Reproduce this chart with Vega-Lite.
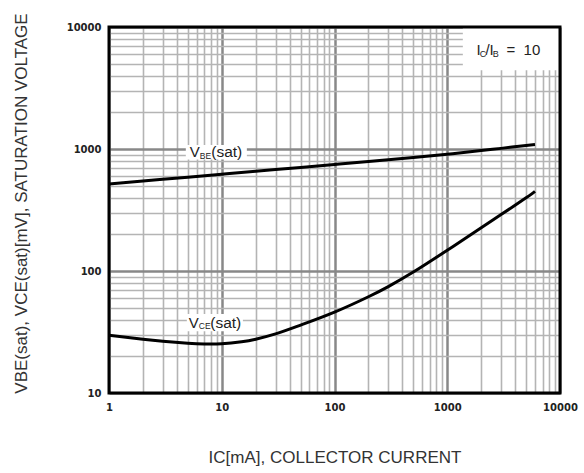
{
  "$schema": "https://vega.github.io/schema/vega-lite/v6.json",
  "width": 451,
  "height": 366,
  "autosize": "none",
  "padding": {"left": 109, "top": 27, "right": 24, "bottom": 80},
  "background": "white",
  "config": {"view": {"stroke": null}},
  "datasets": {
    "curves": [
      {"series": "VBE(sat)", "x": 1, "y": 516},
      {"series": "VBE(sat)", "x": 2, "y": 546},
      {"series": "VBE(sat)", "x": 3, "y": 564},
      {"series": "VBE(sat)", "x": 5, "y": 587},
      {"series": "VBE(sat)", "x": 10, "y": 621},
      {"series": "VBE(sat)", "x": 20, "y": 656},
      {"series": "VBE(sat)", "x": 30, "y": 678},
      {"series": "VBE(sat)", "x": 50, "y": 706},
      {"series": "VBE(sat)", "x": 100, "y": 746},
      {"series": "VBE(sat)", "x": 200, "y": 789},
      {"series": "VBE(sat)", "x": 300, "y": 815},
      {"series": "VBE(sat)", "x": 500, "y": 851},
      {"series": "VBE(sat)", "x": 1000, "y": 906},
      {"series": "VBE(sat)", "x": 2000, "y": 970},
      {"series": "VBE(sat)", "x": 3000, "y": 1012},
      {"series": "VBE(sat)", "x": 5000, "y": 1068},
      {"series": "VBE(sat)", "x": 6000, "y": 1088},
      {"series": "VCE(sat)", "x": 1, "y": 29.7},
      {"series": "VCE(sat)", "x": 2, "y": 27.6},
      {"series": "VCE(sat)", "x": 3, "y": 26.6},
      {"series": "VCE(sat)", "x": 5, "y": 25.6},
      {"series": "VCE(sat)", "x": 7, "y": 25.2},
      {"series": "VCE(sat)", "x": 10, "y": 25.3},
      {"series": "VCE(sat)", "x": 15, "y": 26.3},
      {"series": "VCE(sat)", "x": 20, "y": 27.6},
      {"series": "VCE(sat)", "x": 30, "y": 30.5},
      {"series": "VCE(sat)", "x": 50, "y": 36},
      {"series": "VCE(sat)", "x": 100, "y": 46},
      {"series": "VCE(sat)", "x": 200, "y": 61.5},
      {"series": "VCE(sat)", "x": 300, "y": 74.5},
      {"series": "VCE(sat)", "x": 500, "y": 98},
      {"series": "VCE(sat)", "x": 1000, "y": 148},
      {"series": "VCE(sat)", "x": 2000, "y": 226},
      {"series": "VCE(sat)", "x": 3000, "y": 290},
      {"series": "VCE(sat)", "x": 5000, "y": 398},
      {"series": "VCE(sat)", "x": 6000, "y": 450}
    ],
    "notes": [
      {"note": "VBE", "x": 5.2, "y": 940},
      {"note": "VCE", "x": 5.1, "y": 37.7},
      {"note": "ratio", "x": 1820, "y": 6440}
    ],
    "masks": [
      {"x": 1375, "x2": 10000, "y": 4416, "y2": 10000},
      {"x": 4.8, "x2": 16.7, "y": 820, "y2": 1080},
      {"x": 4.9, "x2": 15.4, "y": 32, "y2": 44.5}
    ],
    "frame": [
      {"x": 1, "x2": 10000, "y": 10, "y2": 10000}
    ]
  },
  "encoding": {
    "x": {
      "field": "x",
      "type": "quantitative",
      "scale": {"type": "log", "domain": [1, 10000], "nice": false},
      "axis": {
        "values": [1, 2, 3, 4, 5, 6, 7, 8, 9, 10, 20, 30, 40, 50, 60, 70, 80, 90, 100, 200, 300, 400, 500, 600, 700, 800, 900, 1000, 2000, 3000, 4000, 5000, 6000, 7000, 8000, 9000, 10000],
        "format": "d",
        "labelExpr": "indexof([1,10,100,1000,10000], datum.value) >= 0 ? datum.label : ''",
        "labelOverlap": false,
        "labelFlush": false,
        "grid": true,
        "gridColor": {"condition": {"test": "indexof([1,10,100,1000,10000], datum.value) >= 0", "value": "#888888"}, "value": "#b4b4b4"},
        "gridWidth": {"condition": {"test": "indexof([1,10,100,1000,10000], datum.value) >= 0", "value": 2.5}, "value": 1.6},
        "ticks": false,
        "domain": false,
        "labelFont": "DejaVu Sans",
        "labelFontWeight": "bold",
        "labelFontSize": 10,
        "labelColor": "#222",
        "labelPadding": 9,
        "title": "IC[mA], COLLECTOR CURRENT",
        "titleFont": "Liberation Sans",
        "titleFontWeight": "normal",
        "titleFontSize": 17,
        "titleColor": "#333",
        "titleBaseline": "alphabetic",
        "titleY": 69
      }
    },
    "y": {
      "field": "y",
      "type": "quantitative",
      "scale": {"type": "log", "domain": [10, 10000], "nice": false},
      "axis": {
        "values": [10, 20, 30, 40, 50, 60, 70, 80, 90, 100, 200, 300, 400, 500, 600, 700, 800, 900, 1000, 2000, 3000, 4000, 5000, 6000, 7000, 8000, 9000, 10000],
        "format": "d",
        "labelExpr": "indexof([10,100,1000,10000], datum.value) >= 0 ? datum.label : ''",
        "labelOverlap": false,
        "labelFlush": false,
        "grid": true,
        "gridColor": {"condition": {"test": "indexof([10,100,1000,10000], datum.value) >= 0", "value": "#888888"}, "value": "#b4b4b4"},
        "gridWidth": {"condition": {"test": "indexof([10,100,1000,10000], datum.value) >= 0", "value": 2.5}, "value": 1.6},
        "ticks": false,
        "domain": false,
        "labelFont": "DejaVu Sans",
        "labelFontWeight": "bold",
        "labelFontSize": 10,
        "labelColor": "#222",
        "labelPadding": 8,
        "title": "VBE(sat), VCE(sat)[mV], SATURATION VOLTAGE",
        "titleFont": "Liberation Sans",
        "titleFontWeight": "normal",
        "titleFontSize": 17,
        "titleColor": "#333",
        "titleAngle": -90,
        "titleAlign": "center",
        "titleBaseline": "middle",
        "titleX": -88,
        "titleY": 176
      }
    }
  },
  "layer": [
    {
      "data": {"name": "masks"},
      "mark": {"type": "rect", "fill": "white", "stroke": null},
      "encoding": {"x2": {"field": "x2"}, "y2": {"field": "y2"}}
    },
    {
      "data": {"name": "curves"},
      "mark": {"type": "line", "color": "black", "strokeWidth": 3, "interpolate": "natural"},
      "encoding": {"detail": {"field": "series", "type": "nominal"}}
    },
    {
      "data": {"name": "notes"},
      "transform": [{"filter": "datum.note !== 'ratio'"}],
      "mark": {"type": "text", "text": "V", "font": "Liberation Sans", "fontSize": 15, "align": "left", "baseline": "middle", "color": "#222"}
    },
    {
      "data": {"name": "notes"},
      "transform": [{"filter": "datum.note === 'VBE'"}],
      "mark": {"type": "text", "text": "BE", "font": "Liberation Sans", "fontSize": 8.5, "align": "left", "baseline": "middle", "dx": 10, "dy": 3.5, "color": "#222"}
    },
    {
      "data": {"name": "notes"},
      "transform": [{"filter": "datum.note === 'VCE'"}],
      "mark": {"type": "text", "text": "CE", "font": "Liberation Sans", "fontSize": 8.5, "align": "left", "baseline": "middle", "dx": 10, "dy": 3.5, "color": "#222"}
    },
    {
      "data": {"name": "notes"},
      "transform": [{"filter": "datum.note !== 'ratio'"}],
      "mark": {"type": "text", "text": "(sat)", "font": "Liberation Sans", "fontSize": 15.5, "align": "left", "baseline": "middle", "dx": 21.5, "color": "#222"}
    },
    {
      "data": {"name": "notes"},
      "transform": [{"filter": "datum.note === 'ratio'"}],
      "mark": {"type": "text", "text": "I", "font": "Liberation Sans", "fontSize": 15, "align": "left", "baseline": "middle", "color": "#222"}
    },
    {
      "data": {"name": "notes"},
      "transform": [{"filter": "datum.note === 'ratio'"}],
      "mark": {"type": "text", "text": "C", "font": "Liberation Sans", "fontSize": 9, "align": "left", "baseline": "middle", "dx": 3.2, "dy": 3.5, "color": "#222"}
    },
    {
      "data": {"name": "notes"},
      "transform": [{"filter": "datum.note === 'ratio'"}],
      "mark": {"type": "text", "text": "/", "font": "Liberation Sans", "fontSize": 15, "align": "left", "baseline": "middle", "dx": 9, "color": "#222"}
    },
    {
      "data": {"name": "notes"},
      "transform": [{"filter": "datum.note === 'ratio'"}],
      "mark": {"type": "text", "text": "I", "font": "Liberation Sans", "fontSize": 15, "align": "left", "baseline": "middle", "dx": 13, "color": "#222"}
    },
    {
      "data": {"name": "notes"},
      "transform": [{"filter": "datum.note === 'ratio'"}],
      "mark": {"type": "text", "text": "B", "font": "Liberation Sans", "fontSize": 9, "align": "left", "baseline": "middle", "dx": 16.2, "dy": 3.5, "color": "#222"}
    },
    {
      "data": {"name": "notes"},
      "transform": [{"filter": "datum.note === 'ratio'"}],
      "mark": {"type": "text", "text": "=", "font": "Liberation Sans", "fontSize": 15, "align": "left", "baseline": "middle", "dx": 30, "color": "#222"}
    },
    {
      "data": {"name": "notes"},
      "transform": [{"filter": "datum.note === 'ratio'"}],
      "mark": {"type": "text", "text": "10", "font": "Liberation Sans", "fontSize": 15, "align": "left", "baseline": "middle", "dx": 47, "color": "#222"}
    },
    {
      "data": {"name": "frame"},
      "mark": {"type": "rect", "fillOpacity": 0, "stroke": "black", "strokeWidth": 3},
      "encoding": {"x2": {"field": "x2"}, "y2": {"field": "y2"}}
    }
  ]
}
